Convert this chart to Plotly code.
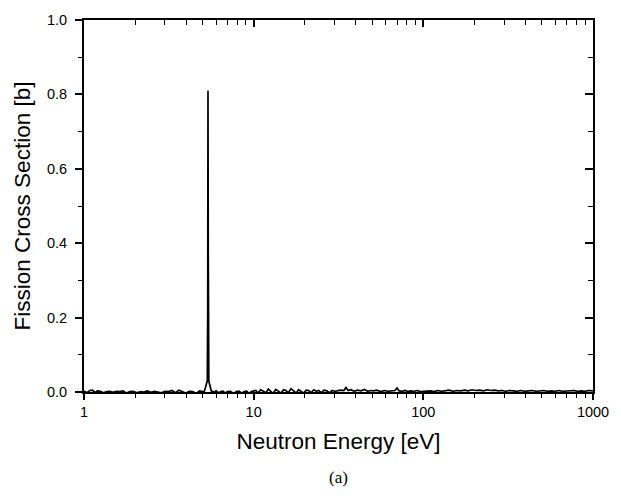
import plotly.graph_objects as go

# ---- data ----
e_low = [1.00, 1.04, 1.08, 1.12, 1.16, 1.20, 1.25, 1.30, 1.36, 1.42, 1.48, 1.55, 1.62, 1.70,
         1.78, 1.86, 1.95, 2.05, 2.15, 2.25, 2.36, 2.48, 2.60, 2.73, 2.86, 3.00, 3.15, 3.30,
         3.46, 3.63, 3.80, 3.98, 4.17, 4.37, 4.58, 4.80, 5.00, 5.10]
s_low = [0.003, -0.002, 0.004, 0.005, -0.001, 0.003, 0.002, -0.002, 0.001, 0.002, -0.001, 0.002,
         0.001, 0.003, -0.003, 0.001, 0.002, -0.002, 0.001, 0.000, 0.003, -0.001, 0.002, 0.000,
         -0.002, 0.002, 0.001, 0.004, -0.002, 0.005, 0.001, -0.003, 0.002, 0.001, -0.004, 0.003,
         0.001, 0.000]

e_peak = [5.20, 5.28, 5.33, 5.36, 5.38, 5.40, 5.42, 5.44, 5.50, 5.58, 5.65]
s_peak = [0.012, 0.020, 0.030, 0.220, 0.810, 0.370, 0.220, 0.030, 0.020, 0.010, 0.000]

e_mid = [5.70, 5.85, 6.0, 6.2, 6.4, 6.6, 6.8, 7.0, 7.3, 7.6, 7.9, 8.2, 8.5, 8.8, 9.1, 9.4, 9.7, 10.0]
s_mid = [0.002, 0.000, 0.003, -0.002, 0.001, 0.002, -0.003, 0.001, 0.002, -0.004, 0.001, 0.002,
         -0.003, 0.001, 0.002, -0.004, 0.001, 0.002]

e_ten = [10.3, 10.6, 11.0, 11.4, 11.8, 12.2, 12.6, 13.0, 13.5, 14.0, 14.5, 15.0, 15.5, 16.0,
         16.6, 17.2, 17.8, 18.4, 19.0, 19.7, 20.4, 21.1, 21.8, 22.6, 23.4, 24.2, 25.0, 26.0,
         27.0, 28.0, 29.0, 30.0]
s_ten = [0.004, -0.003, 0.006, 0.002, -0.002, 0.008, 0.003, -0.004, 0.007, 0.002, -0.003, 0.006,
         0.004, -0.002, 0.009, 0.003, -0.003, 0.006, 0.002, -0.003, 0.005, 0.004, -0.002, 0.006,
         0.002, 0.004, -0.002, 0.005, 0.003, -0.002, 0.004, 0.002]

e_30 = [31, 32.5, 34, 35, 36, 37.5, 39, 41, 43, 45, 47, 49, 51, 53, 56, 59, 62, 65, 68, 70, 72,
        75, 78, 81, 84, 88, 92, 96, 100]
s_30 = [0.003, 0.005, 0.004, 0.012, 0.004, 0.006, 0.002, 0.005, 0.003, 0.007, 0.002, 0.004,
        0.003, 0.005, 0.001, 0.004, 0.002, 0.003, 0.004, 0.011, 0.003, 0.002, 0.004, 0.001,
        0.003, 0.002, 0.004, 0.001, 0.002]

e_hi = [105, 110, 116, 122, 128, 135, 142, 150, 158, 166, 175, 184, 194, 204, 215, 226, 238,
        250, 263, 277, 291, 306, 322, 339, 357, 376, 396, 417, 439, 462, 486, 512, 539, 567,
        597, 628, 661, 696, 732, 770, 811, 853, 898, 945, 1000]
s_hi = [0.002, 0.003, 0.001, 0.004, 0.002, 0.003, 0.005, 0.002, 0.004, 0.003, 0.005, 0.003,
        0.006, 0.004, 0.005, 0.003, 0.006, 0.004, 0.005, 0.003, 0.004, 0.002, 0.004, 0.003,
        0.002, 0.004, 0.002, 0.003, 0.004, 0.002, 0.003, 0.004, 0.002, 0.003, 0.002, 0.004,
        0.002, 0.003, 0.002, 0.004, 0.002, 0.003, 0.002, 0.004, 0.003]

energy = e_low + e_peak + e_mid + e_ten + e_30 + e_hi
sigma = s_low + s_peak + s_mid + s_ten + s_30 + s_hi

x_major = [1, 10, 100, 1000]
x_major_text = ["1", "10", "100", "1000"]
x_minor = [2, 3, 4, 5, 6, 7, 8, 9, 20, 30, 40, 50, 60, 70, 80, 90,
           200, 300, 400, 500, 600, 700, 800, 900]
y_major = [0.0, 0.2, 0.4, 0.6, 0.8, 1.0]
y_major_text = ["0.0", "0.2", "0.4", "0.6", "0.8", "1.0"]
y_minor = [0.1, 0.3, 0.5, 0.7, 0.9]

x_title = "Neutron Energy [eV]"
y_title = "Fission Cross Section [b]"
caption = "(a)"

X_RANGE = [0, 3]
Y_RANGE = [0, 1.0]

fig = go.Figure()
fig.add_trace(go.Scatter(x=energy, y=sigma, mode="lines",
                         line=dict(color="black", width=1.7), showlegend=False,
                         hoverinfo="skip"))
# invisible helper traces so the extra tick-only axes are drawn
for xa, ya in [("x2", "y2"), ("x3", "y3"), ("x4", "y4")]:
    fig.add_trace(go.Scatter(x=[1], y=[0], xaxis=xa, yaxis=ya, mode="markers",
                             marker=dict(opacity=0), showlegend=False, hoverinfo="skip"))

fam = "Liberation Sans, Arial, sans-serif"
axfont = dict(family=fam, size=14.5, color="black")


def tick_axis(kind, side, vals, tlen, direction, width=1.5):
    d = dict(range=X_RANGE if kind == "x" else Y_RANGE,
             tickmode="array", tickvals=vals, showticklabels=False,
             ticks=direction, ticklen=tlen, tickwidth=width, tickcolor="black",
             showgrid=False, zeroline=False, showline=False, side=side,
             overlaying=kind)
    if kind == "x":
        d["type"] = "log"
    return d


fig.update_layout(
    width=621, height=499,
    margin=dict(l=84, r=24, t=15, b=107),
    paper_bgcolor="white", plot_bgcolor="white",
    font=axfont, showlegend=False,
    xaxis=dict(type="log", range=X_RANGE, tickmode="array", tickvals=x_major,
               ticktext=x_major_text,
               showline=True, linecolor="black", linewidth=2, mirror=True,
               ticks="outside", ticklen=6, tickwidth=1.6, tickcolor="black",
               showgrid=False, zeroline=False, tickfont=axfont,
               title=dict(text=x_title, font=dict(size=22.5, family=fam),
                          standoff=14)),
    yaxis=dict(range=Y_RANGE, tickmode="array", tickvals=y_major, ticktext=y_major_text,
               showline=True, linecolor="black", linewidth=2, mirror=True,
               ticks="outside", ticklen=7, tickwidth=1.6, tickcolor="black",
               ticklabelstandoff=5,
               showgrid=False, zeroline=False, tickfont=axfont,
               title=dict(text=y_title, font=dict(size=22.5, family=fam),
                          standoff=10)),
    xaxis2=tick_axis("x", "top", x_major, 7, "inside", 1.6),
    yaxis2=tick_axis("y", "right", y_major, 8, "inside", 1.6),
    xaxis3=tick_axis("x", "bottom", x_minor, 5, "outside", 1.3),
    yaxis3=tick_axis("y", "left", y_minor, 5, "outside", 1.3),
    xaxis4=tick_axis("x", "top", x_minor, 5, "inside", 1.3),
    yaxis4=tick_axis("y", "right", y_minor, 5, "inside", 1.3),
    annotations=[dict(text=caption, xref="paper", yref="paper", x=0.5, y=-0.229,
                      xanchor="center", yanchor="middle", showarrow=False,
                      font=dict(family="Liberation Serif, Times New Roman, serif",
                                size=17, color="black"))],
)

fig.write_html("out.html")
